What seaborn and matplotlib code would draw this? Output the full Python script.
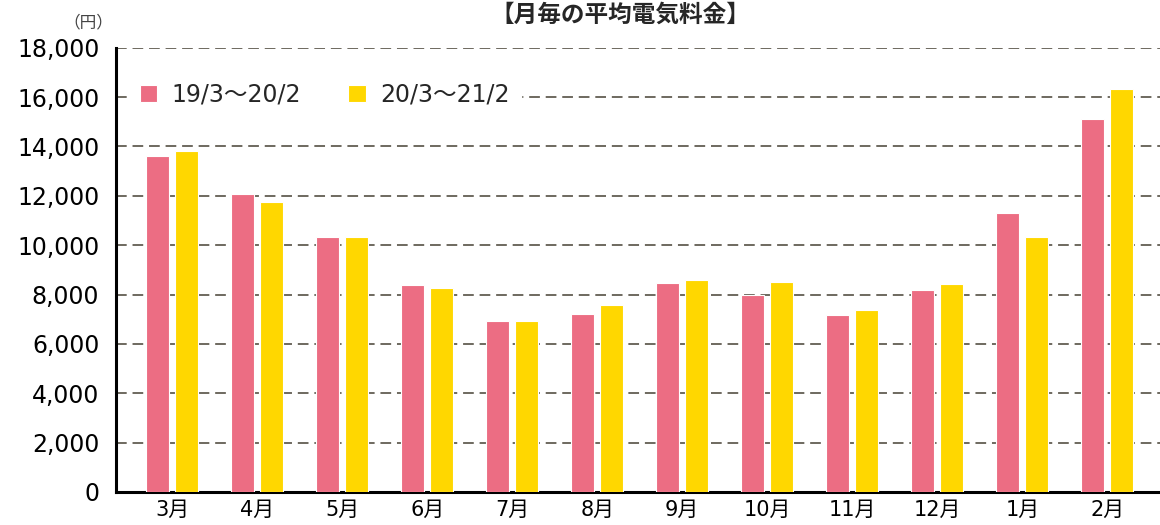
import pandas as pd
import matplotlib
matplotlib.use("Agg")
import matplotlib.pyplot as plt
import seaborn as sns

# ============================== DATA ========================================
MONTHS = ["3月", "4月", "5月", "6月", "7月", "8月",
          "9月", "10月", "11月", "12月", "1月", "2月"]
PERIODS = ["19/3～20/2", "20/3～21/2"]
FY2019 = [13630, 12080, 10320, 8380, 6920, 7210,
          8470, 7980, 7180, 8180, 11290, 15120]
FY2020 = [13830, 11760, 10340, 8260, 6910, 7560,
          8590, 8520, 7370, 8430, 10340, 16340]
YTICKS = list(range(0, 18001, 2000))
COLORS = ["#EC6D83", "#FFD700"]
# ============================================================================


def main():
    sns.set_theme(style="white")
    plt.rcParams["font.family"] = ["DejaVu Sans", "Noto Sans CJK JP"]

    df = pd.DataFrame({
        "month": MONTHS * 2,
        "value": FY2019 + FY2020,
        "period": [PERIODS[0]] * len(MONTHS) + [PERIODS[1]] * len(MONTHS),
    })

    fig = plt.figure(figsize=(11.6, 5.25), dpi=100)
    ax = fig.add_axes([0.1, 0.063, 0.9, 0.846])

    sns.barplot(
        data=df, x="month", y="value", hue="period",
        palette=COLORS, saturation=1, width=0.68, gap=0.2,
        edgecolor="white", linewidth=0.8, ax=ax, zorder=3,
    )

    ax.set_ylim(0, 18000)
    ax.set_xlim(-0.66, 11.62)
    ax.set_yticks(YTICKS)
    ax.set_yticklabels([f"{v:,}" for v in YTICKS])
    ax.yaxis.grid(True, linestyle=(0, (5.5, 3)), color="#6e695f",
                  linewidth=1.4, zorder=0)
    ax.set_axisbelow(True)
    ax.set_xlabel("")
    ax.set_ylabel("")

    for side in ["top", "right"]:
        ax.spines[side].set_visible(False)
    for side in ["left", "bottom"]:
        ax.spines[side].set_color("black")
        ax.spines[side].set_linewidth(2.2)

    ax.tick_params(axis="y", length=0, pad=12, labelsize=17, labelcolor="black")
    ax.tick_params(axis="x", length=0, pad=6, labelsize=15, labelcolor="black")

    leg = ax.legend(
        loc="upper left", ncol=2, frameon=True, fontsize=17,
        bbox_to_anchor=(0.0, 0.975), handlelength=0.75, handleheight=0.75,
        handletextpad=0.6, columnspacing=2.0, borderpad=0.5,
    )
    leg.get_frame().set_facecolor("white")
    leg.get_frame().set_edgecolor("white")
    leg.get_frame().set_alpha(1)
    leg.set_zorder(5)

    fig.text(0.535, 0.972, "【月毎の平均電気料金】", ha="center", va="center",
             fontsize=17, fontweight="bold", family=["Noto Sans CJK JP"])
    fig.text(0.076, 0.957, "（円）", ha="center", va="center",
             fontsize=12, color="#444444", family=["Noto Sans CJK JP"])

    fig.savefig("out.png", dpi=100)
    plt.close(fig)


if __name__ == "__main__":
    main()
